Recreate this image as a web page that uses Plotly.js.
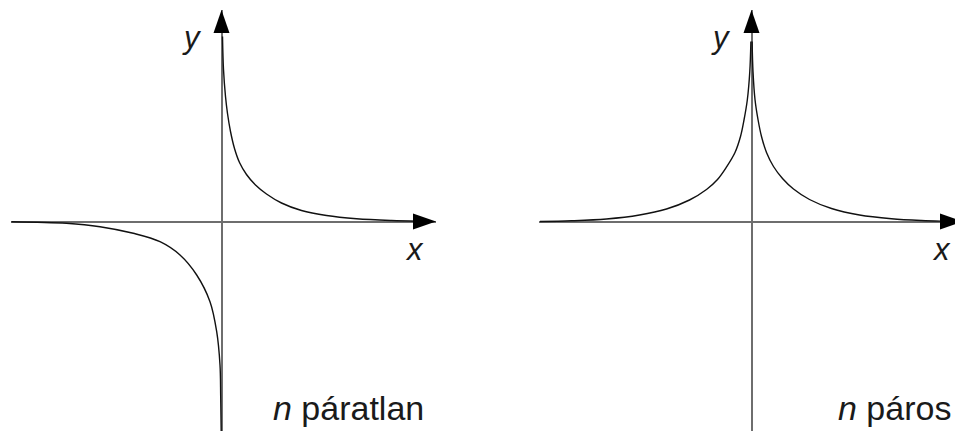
<!DOCTYPE html>
<html>
<head>
<meta charset="utf-8">
<script src="https://cdn.plot.ly/plotly-3.0.1.min.js"></script>
<style>
  html, body { margin: 0; padding: 0; background: #ffffff; }
  #chart { width: 955px; height: 431px; }
</style>
</head>
<body>
<div id="chart"></div>
<script>
// y = 1/x^n, n odd: branch for x > 0 and branch for x < 0
const oddPosX = [0.02, 0.04, 0.08, 0.12, 0.18, 0.26, 0.36, 0.5, 0.68, 0.9, 1.2, 1.6, 2.1, 2.7, 3.4, 3.92];
const oddPosY = [3.7, 3.04, 2.5, 2.16, 1.8, 1.46, 1.18, 0.94, 0.73, 0.55, 0.37, 0.22, 0.12, 0.056, 0.02, 0.006];
const oddNegX = [-4.2, -3.1, -2.43, -1.764, -1.23, -0.83, -0.496, -0.23, -0.096, -0.03, -0.016, -0.006];
const oddNegY = [-0.004, -0.036, -0.104, -0.236, -0.404, -0.67, -1.07, -1.604, -2.204, -2.87, -3.5, -4.2];

// y = 1/x^n, n even: both branches lie above the x axis
const evenNegX = [-4.23, -3.6, -2.9, -2.24, -1.7, -1.24, -0.9, -0.68, -0.496, -0.33, -0.22, -0.15, -0.084, -0.034, -0.012];
const evenNegY = [0, 0.014, 0.05, 0.13, 0.25, 0.43, 0.64, 0.84, 1.096, 1.38, 1.7, 2.03, 2.43, 3.0, 3.6];
const evenPosX = [0.012, 0.03, 0.07, 0.13, 0.2, 0.3, 0.44, 0.62, 0.84, 1.16, 1.6, 2.16, 2.8, 3.4, 3.78];
const evenPosY = [3.6, 3.0, 2.44, 2.04, 1.7, 1.38, 1.1, 0.86, 0.65, 0.44, 0.26, 0.13, 0.056, 0.02, 0.008];

// labels
const axisLabelX = 'x';
const axisLabelY = 'y';
const captionOdd = '<i>n</i> páratlan';
const captionEven = '<i>n</i> páros';

const curveLine = { color: '#111111', width: 1.4, shape: 'spline', smoothing: 1 };

function branch(x, y, xa, ya) {
  return { x: x, y: y, xaxis: xa, yaxis: ya, mode: 'lines', line: curveLine,
           hoverinfo: 'skip', showlegend: false };
}

const traces = [
  branch(oddPosX, oddPosY, 'x', 'y'),
  branch(oddNegX, oddNegY, 'x', 'y'),
  branch(evenNegX, evenNegY, 'x2', 'y2'),
  branch(evenPosX, evenPosY, 'x2', 'y2')
];

const leftXRange = [-4.21, 4.29];
const rightXRange = [-4.25, 4.07];
const yRange = [-4.19, 4.23];

function axisStyle(range, domain, anchor) {
  return {
    range: range, domain: domain, anchor: anchor,
    showgrid: false, showticklabels: false, ticks: '', showline: false,
    zeroline: true, zerolinecolor: '#6e6e6e', zerolinewidth: 2,
    fixedrange: true
  };
}

// arrowheads at the positive ends of the axes, sized in pixels
const headLen = 23, headHalf = 8;
function xArrow(xa, ya, xEnd, overhang) {
  const t = overhang;
  return {
    type: 'path', xref: xa, yref: ya, xsizemode: 'pixel', ysizemode: 'pixel',
    xanchor: xEnd, yanchor: 0,
    path: 'M' + t + ',0L' + (t - headLen) + ',' + headHalf + 'L' + (t - headLen) + ',' + (-headHalf) + 'Z',
    fillcolor: '#000000', line: { width: 0 }, layer: 'above'
  };
}
function yArrow(xa, ya, yEnd) {
  return {
    type: 'path', xref: xa, yref: ya, xsizemode: 'pixel', ysizemode: 'pixel',
    xanchor: 0, yanchor: yEnd,
    path: 'M0,0L' + (-headHalf) + ',' + (-headLen) + 'L' + headHalf + ',' + (-headLen) + 'Z',
    fillcolor: '#000000', line: { width: 0 }, layer: 'above'
  };
}

const fontFamily = 'Liberation Sans, Arial, sans-serif';
const labelFont = { family: fontFamily, size: 31, color: '#1a1a1a' };
const captionFont = { family: fontFamily, size: 34, color: '#1a1a1a' };

function label(text, xa, ya, x, y, font) {
  return {
    text: text, xref: xa, yref: ya, x: x, y: y, showarrow: false,
    xanchor: 'center', yanchor: 'middle', font: font
  };
}

const layout = {
  width: 955, height: 431,
  margin: { l: 0, r: 0, t: 0, b: 0, pad: 0 },
  paper_bgcolor: '#ffffff', plot_bgcolor: '#ffffff',
  showlegend: false,
  xaxis: axisStyle(leftXRange, [11 / 955, 436 / 955], 'y'),
  yaxis: axisStyle(yRange, [0, 421 / 431], 'x'),
  xaxis2: axisStyle(rightXRange, [539 / 955, 1], 'y2'),
  yaxis2: axisStyle(yRange, [0, 421 / 431], 'x2'),
  shapes: [
    xArrow('x', 'y', leftXRange[1], 0),
    yArrow('x', 'y', yRange[1]),
    xArrow('x2', 'y2', rightXRange[1], 8),
    yArrow('x2', 'y2', yRange[1])
  ],
  annotations: [
    label('<i>' + axisLabelY + '</i>', 'x', 'y', -0.59, 3.69, labelFont),
    label('<i>' + axisLabelX + '</i>', 'x', 'y', 3.85, -0.55, labelFont),
    label('<i>' + axisLabelY + '</i>', 'x2', 'y2', -0.61, 3.69, labelFont),
    label('<i>' + axisLabelX + '</i>', 'x2', 'y2', 3.79, -0.55, labelFont),
    label(captionOdd, 'x', 'y', 2.53, -3.72, captionFont),
    label(captionEven, 'x2', 'y2', 2.85, -3.72, captionFont)
  ]
};

Plotly.newPlot('chart', traces, layout, { displayModeBar: false, staticPlot: true });
</script>
</body>
</html>
